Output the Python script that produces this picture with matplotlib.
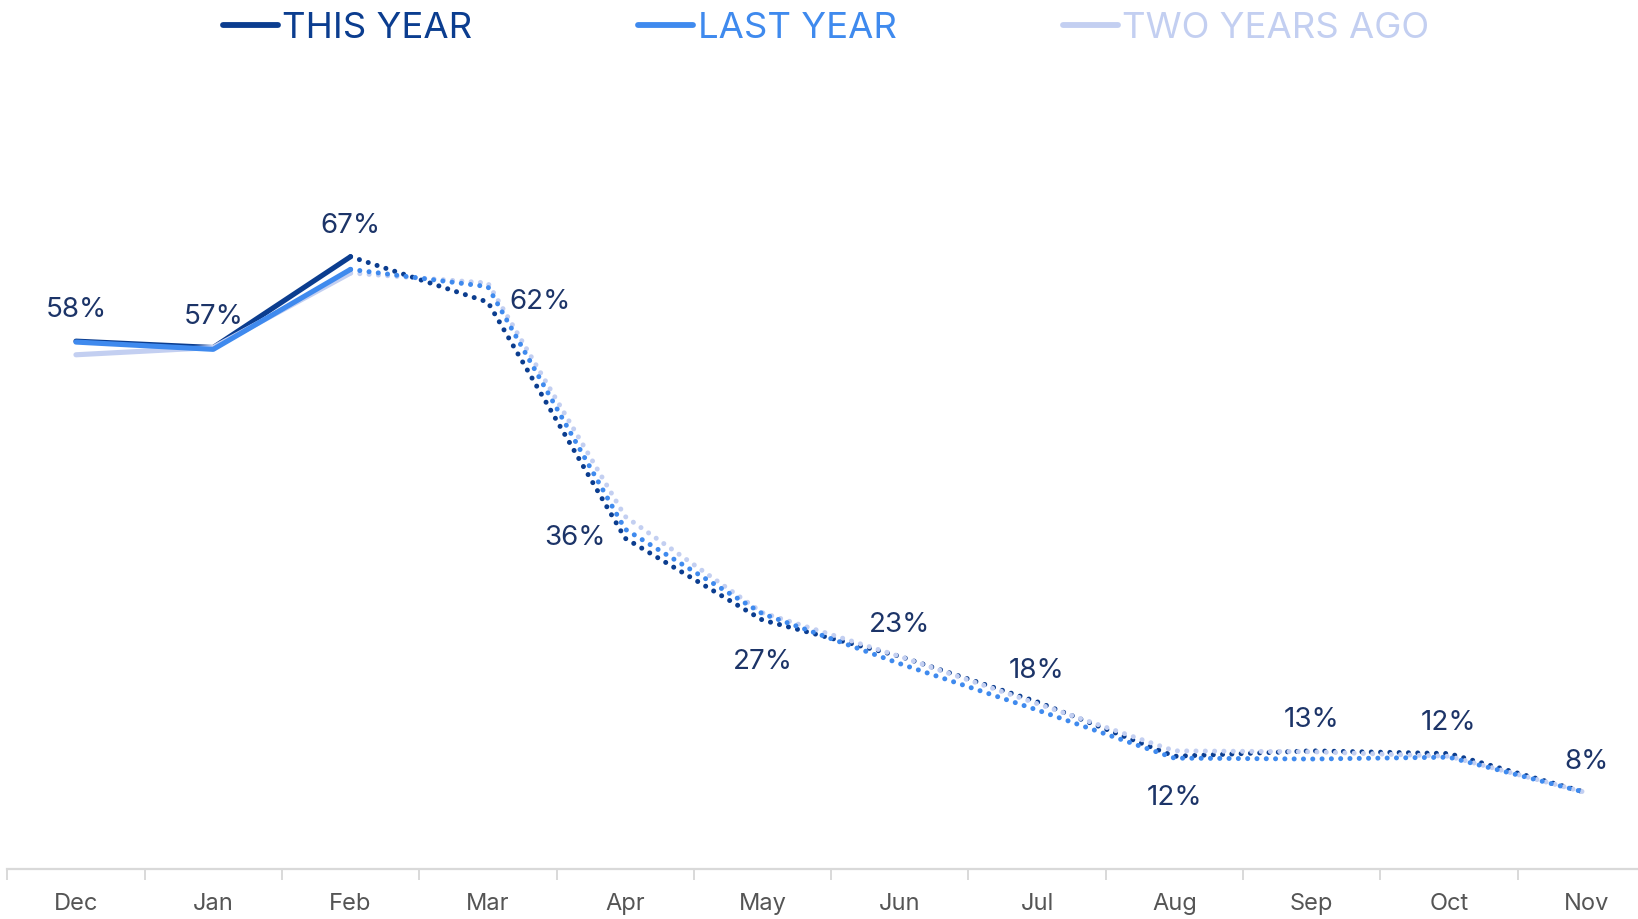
import matplotlib
matplotlib.use("Agg")
import matplotlib.pyplot as plt
from matplotlib.lines import Line2D

plt.rcParams['font.family'] = ['Inter', 'DejaVu Sans']

months = ["Dec", "Jan", "Feb", "Mar", "Apr", "May", "Jun", "Jul", "Aug", "Sep", "Oct", "Nov"]
this_year = [57.7, 57, 67, 62, 36, 27, 23, 18, 12, 12.6, 12.3, 8]
last_year = [57.6, 56.8, 65.6, 63.7, 37, 27.7, 22.2, 17.1, 11.8, 11.7, 11.9, 8]
two_years_ago = [56.2, 57, 65.2, 64.1, 38.4, 27.8, 23, 17.8, 12.6, 12.5, 12.0, 8]
series_names = ["THIS YEAR", "LAST YEAR", "TWO YEARS AGO"]

# label placement relative to the THIS YEAR point
label_pos = ["above", "above", "above", "right", "left", "below",
             "above", "above", "below", "above", "above", "above"]

C_DARK = "#0B3D8F"
C_MID = "#3F8AEE"
C_LIGHT = "#C3CFF1"
C_LABEL = "#1C3468"

W, H = 1638, 919
fig = plt.figure(figsize=(W / 100, H / 100), dpi=100)

x0 = 7.3
band = 137.3
ax_left = x0 / W
ax_width = (12 * band) / W
ax_bottom = (H - 869) / H
ax_top_px = 80
ax_height = (869 - ax_top_px) / H
ax = fig.add_axes([ax_left, ax_bottom, ax_width, ax_height])

ypp = 9.084  # px per percent
ax.set_xlim(-0.5, 11.5)
ax.set_ylim(-(869 - 865.3) / ypp, (865.3 - ax_top_px) / ypp)

xs = list(range(len(months)))
split = 2  # solid through Feb, dotted after

lw_solid = 3.7
lw_dot = 3.6
dot_style = (0, (0.01, 1.85))

order = [(this_year, C_DARK, 2), (two_years_ago, C_LIGHT, 3), (last_year, C_MID, 4)]
for vals, col, z in order:
    ax.plot(xs[:split + 1], vals[:split + 1], color=col, lw=lw_solid,
            solid_capstyle="round", solid_joinstyle="round", zorder=z)
    ax.plot(xs[split:], vals[split:], color=col, lw=lw_dot, linestyle=dot_style,
            dash_capstyle="round", zorder=z)

# data labels for THIS YEAR
for x, v, pos in zip(xs, this_year, label_pos):
    txt = f"{v:.0f}%"
    if pos == "above":
        ax.annotate(txt, (x, v), xytext=(0, 18), textcoords="offset pixels",
                    ha="center", va="bottom", fontsize=20, color=C_LABEL)
    elif pos == "below":
        ax.annotate(txt, (x, v), xytext=(0, -29), textcoords="offset pixels",
                    ha="center", va="top", fontsize=20, color=C_LABEL)
    elif pos == "right":
        ax.annotate(txt, (x, v), xytext=(22, 0), textcoords="offset pixels",
                    ha="left", va="center", fontsize=20, color=C_LABEL)
    else:
        ax.annotate(txt, (x, v), xytext=(-19, 0), textcoords="offset pixels",
                    ha="right", va="center", fontsize=20, color=C_LABEL)

# axes styling
for s in ["top", "right", "left"]:
    ax.spines[s].set_visible(False)
ax.spines["bottom"].set_color("#D9D9D9")
ax.spines["bottom"].set_linewidth(1.6)
ax.set_yticks([])
ax.set_xticks(xs)
ax.set_xticklabels(months, fontsize=17, color="#555555")
ax.tick_params(axis="x", which="major", length=0, pad=17)
ax.set_xticks([i - 0.5 for i in range(len(months) + 1)], minor=True)
ax.tick_params(axis="x", which="minor", length=8, width=1.4, color="#D9D9D9")

# legend
handles = [Line2D([0], [0], color=c, lw=4.2, solid_capstyle="round")
           for c in (C_DARK, C_MID, C_LIGHT)]
leg = fig.legend(handles, series_names, loc="center", bbox_to_anchor=(826 / W, 1 - 28 / H),
                 ncol=3, frameon=False, fontsize=26.3, handlelength=1.5, handletextpad=0.12,
                 columnspacing=4.55, borderpad=0, labelcolor=[C_DARK, C_MID, C_LIGHT])

fig.savefig("out.png", dpi=100)
